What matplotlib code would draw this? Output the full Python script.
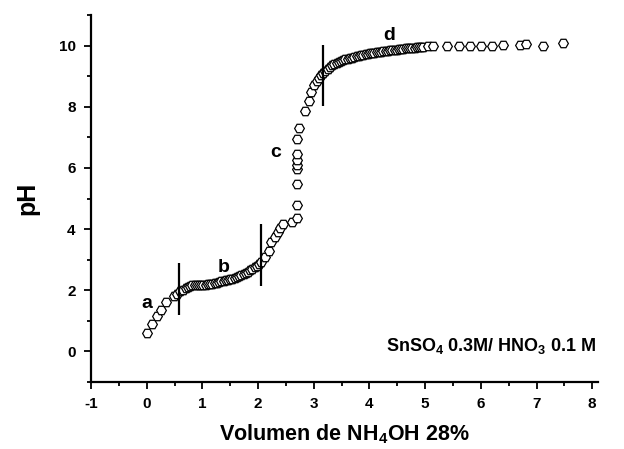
import matplotlib
matplotlib.use("Agg")
import matplotlib.pyplot as plt
from matplotlib.ticker import MultipleLocator

plt.rcParams['font.family'] = ['Liberation Sans', 'DejaVu Sans']
plt.rcParams['axes.unicode_minus'] = False
plt.rcParams['mathtext.default'] = 'bf'
plt.rcParams['mathtext.fontset'] = 'custom'
plt.rcParams['mathtext.bf'] = 'Liberation Sans:bold'
plt.rcParams['mathtext.rm'] = 'Liberation Sans:bold'

vol = [0.00, 0.09, 0.19, 0.25, 0.35, 0.49, 0.55, 0.60, 0.65, 0.70, 0.74, 0.78,
       0.82, 0.86, 0.90, 0.94, 0.98, 1.02, 1.06, 1.10, 1.14, 1.18, 1.22, 1.26,
       1.30, 1.34, 1.38, 1.42, 1.46, 1.50, 1.54, 1.58, 1.62, 1.66, 1.70, 1.74,
       1.78, 1.82, 1.86, 1.90, 1.94, 1.98, 2.02, 2.06, 2.12, 2.20, 2.24, 2.30,
       2.36, 2.39, 2.44, 2.61, 2.70, 2.70, 2.70, 2.70, 2.70, 2.70, 2.70, 2.70,
       2.74, 2.85, 2.91, 2.95, 3.01, 3.05, 3.09, 3.13, 3.17, 3.21, 3.25, 3.29,
       3.33, 3.37, 3.41, 3.45, 3.49, 3.53, 3.57, 3.61, 3.65, 3.69, 3.73, 3.77,
       3.81, 3.85, 3.89, 3.93, 3.97, 4.01, 4.05, 4.09, 4.13, 4.17, 4.21, 4.25,
       4.29, 4.33, 4.37, 4.41, 4.45, 4.49, 4.53, 4.57, 4.61, 4.65, 4.69, 4.73,
       4.77, 4.81, 4.85, 4.89, 4.93, 4.97, 5.05, 5.15, 5.40, 5.60, 5.80, 6.00,
       6.20, 6.40, 6.70, 6.81, 7.12, 7.47]
ph = [0.61, 0.90, 1.16, 1.36, 1.61, 1.80, 1.88, 1.96, 2.02, 2.07, 2.11, 2.14,
      2.16, 2.17, 2.18, 2.18, 2.18, 2.18, 2.18, 2.19, 2.20, 2.21, 2.23, 2.25,
      2.27, 2.29, 2.31, 2.33, 2.34, 2.36, 2.38, 2.40, 2.43, 2.46, 2.50, 2.53,
      2.57, 2.61, 2.65, 2.70, 2.75, 2.80, 2.86, 2.94, 3.08, 3.29, 3.59, 3.73,
      3.91, 4.02, 4.15, 4.24, 4.37, 4.78, 5.48, 5.98, 6.11, 6.25, 6.47, 6.96,
      7.30, 7.86, 8.18, 8.48, 8.70, 8.85, 8.95, 9.03, 9.10, 9.18, 9.24, 9.30,
      9.35, 9.39, 9.43, 9.46, 9.49, 9.52, 9.55, 9.57, 9.59, 9.61, 9.63, 9.65,
      9.67, 9.69, 9.70, 9.72, 9.73, 9.75, 9.76, 9.77, 9.78, 9.79, 9.80, 9.81,
      9.82, 9.83, 9.84, 9.85, 9.86, 9.87, 9.88, 9.89, 9.90, 9.91, 9.91, 9.92,
      9.93, 9.93, 9.94, 9.94, 9.95, 9.96, 9.97, 9.97, 9.97, 9.98, 9.99, 10.00,
      10.00, 10.01, 10.02, 10.04, 9.99, 10.08]

seg_x = [0.58, 2.06, 3.16]
seg_lo = [1.20, 2.14, 8.01]
seg_hi = [2.88, 4.15, 10.02]

lab_txt = ['a', 'b', 'c', 'd']
lab_x = [0.00, 1.38, 2.32, 4.35]
lab_y = [1.56, 2.75, 6.49, 10.33]

fig = plt.figure(figsize=(6.24, 4.49), dpi=100)
ax = fig.add_axes([0.1458, 0.1492, 0.8122, 0.8174])

ax.plot(vol, ph, linestyle='none', marker='H', markersize=7,
        markerfacecolor='white', markeredgecolor='black', markeredgewidth=0.9)
ax.vlines(seg_x, seg_lo, seg_hi, colors='black', linewidth=1.6)

for t, x, y in zip(lab_txt, lab_x, lab_y):
    ax.text(x, y, t, fontsize=14, fontweight='bold', ha='center', va='center')

ax.text(8.07, 0.19, r'SnSO$_{\mathbf{4}}$ 0.3M/ HNO$_{\mathbf{3}}$ 0.1 M',
        fontsize=13, fontweight='bold', ha='right', va='center')

ax.set_xlim(-1, 8.1)
ax.set_ylim(-1, 11)
ax.xaxis.set_major_locator(MultipleLocator(1))
ax.xaxis.set_minor_locator(MultipleLocator(0.5))
ax.set_yticks([0, 2, 4, 6, 8, 10])
ax.yaxis.set_minor_locator(MultipleLocator(1))
ax.tick_params(which='both', direction='out', width=1.3, labelsize=11)
ax.tick_params(which='major', length=5, pad=6)
ax.tick_params(which='minor', length=3)
for lbl in ax.get_xticklabels() + ax.get_yticklabels():
    lbl.set_fontweight('bold')
for s in ['top', 'right']:
    ax.spines[s].set_visible(False)
for s in ['left', 'bottom']:
    ax.spines[s].set_linewidth(1.6)

ax.set_xlabel(r'Volumen de NH$_{\mathbf{4}}$OH 28%', fontsize=15.5, fontweight='bold', labelpad=8)
ax.set_ylabel('pH', fontsize=18, fontweight='bold', labelpad=14)

fig.savefig('out.png', dpi=100)
